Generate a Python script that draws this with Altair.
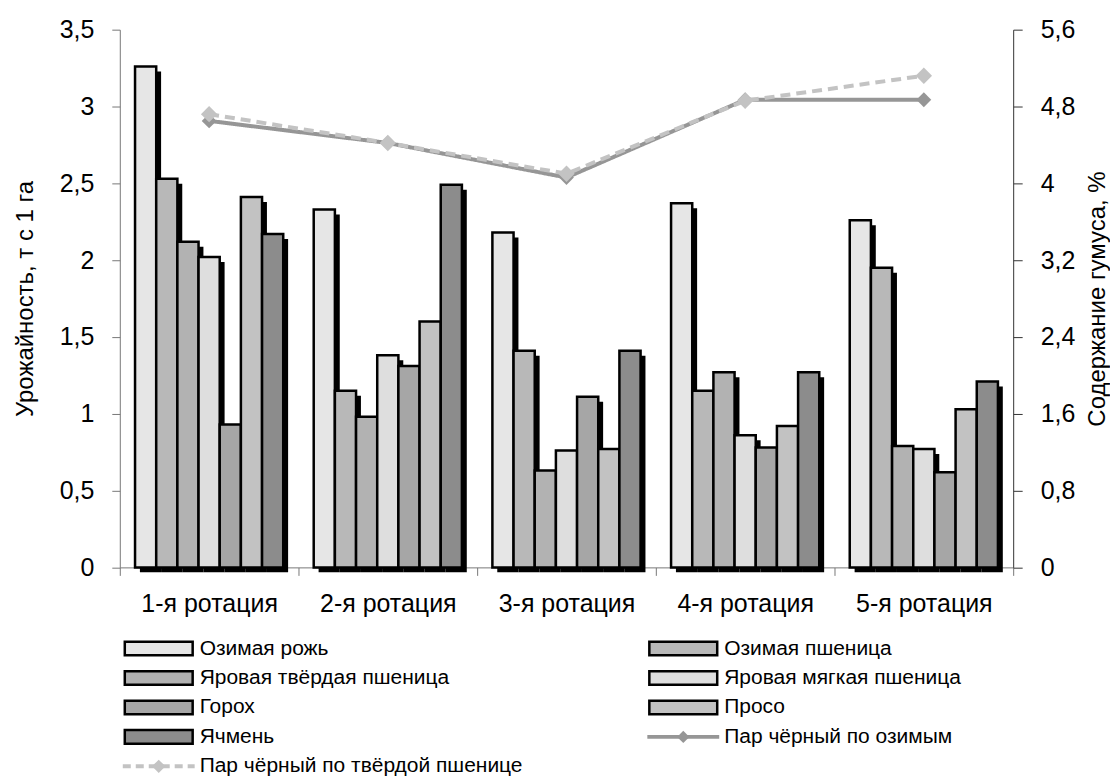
import altair as alt
import pandas as pd

FONT = "Liberation Sans"

rotations = ["1-я ротация", "2-я ротация", "3-я ротация", "4-я ротация", "5-я ротация"]
crops = ["Озимая рожь", "Озимая пшеница", "Яровая твёрдая пшеница",
         "Яровая мягкая пшеница", "Горох", "Просо", "Ячмень"]

rye = [3.26, 2.33, 2.18, 2.37, 2.26]
winter_wheat = [2.53, 1.15, 1.41, 1.15, 1.95]
durum_wheat = [2.12, 0.98, 0.63, 1.27, 0.79]
soft_wheat = [2.02, 1.38, 0.76, 0.86, 0.77]
pea = [0.93, 1.31, 1.11, 0.78, 0.62]
millet = [2.41, 1.60, 0.77, 0.92, 1.03]
barley = [2.17, 2.49, 1.41, 1.27, 1.21]
crop_values = [rye, winter_wheat, durum_wheat, soft_wheat, pea, millet, barley]
crop_fills = ["#e6e6e6", "#b8b8b8", "#b2b2b2", "#dedede", "#a6a6a6", "#c2c2c2", "#8c8c8c"]

lines = ["Пар чёрный по озимым", "Пар чёрный по твёрдой пшенице"]
humus_winter = [4.65, 4.42, 4.06, 4.87, 4.87]
humus_durum = [4.72, 4.42, 4.10, 4.86, 5.12]
line_colors = ["#969696", "#c3c3c3"]

yield_ticks = [0, 0.5, 1, 1.5, 2, 2.5, 3, 3.5]
humus_ticks = [0, 0.8, 1.6, 2.4, 3.2, 4.0, 4.8, 5.6]

bars_df = pd.DataFrame([
    {"rot": r, "crop": c, "value": v}
    for c, vals in zip(crops, crop_values)
    for r, v in zip(rotations, vals)
])
lines_df = pd.DataFrame(
    [{"rot": r, "series": lines[0], "humus": v} for r, v in zip(rotations, humus_winter)]
    + [{"rot": r, "series": lines[1], "humus": v} for r, v in zip(rotations, humus_durum)]
)

legend_items = crops + lines
legend_df = pd.DataFrame([
    {"label": name, "col": i % 2, "row": i // 2,
     "kind": "bar" if name in crops else ("solid" if name == lines[0] else "dashed")}
    for i, name in enumerate(legend_items)
])

label_expr = "replace(format(datum.value, '.1~f'), '.', ',')"

x_enc = alt.X(
    "rot:N", sort=rotations,
    scale=alt.Scale(paddingInner=0, paddingOuter=0),
    axis=alt.Axis(title=None, tickBand="extent", labelAngle=0, labelFontSize=25,
                  labelPadding=16, tickSize=8),
)
xoff = alt.XOffset("crop:N", sort=crops,
                   scale=alt.Scale(paddingInner=0, paddingOuter=0.72))
# shadow sub-bands shifted right by putting more of the outer padding on the left
xoff_shadow = alt.XOffset("crop:N", sort=crops,
                          scale=alt.Scale(paddingInner=0, paddingOuter=0.72, align=0.66))
y_left_axis = alt.Axis(values=yield_ticks, title="Урожайность, т с 1 га",
                       labelExpr=label_expr, tickSize=8, labelPadding=18,
                       titlePadding=22)
y_left = alt.Y("value:Q", scale=alt.Scale(domain=[0, 3.5], nice=False), axis=y_left_axis)
fill_enc = alt.Color("crop:N", sort=crops,
                     scale=alt.Scale(domain=crops, range=crop_fills), legend=None)

shadow = alt.Chart(bars_df).mark_bar(color="black", yOffset=5, y2Offset=0).encode(
    x=x_enc, xOffset=xoff_shadow, y=y_left
)
bars = alt.Chart(bars_df).mark_bar(stroke="black", strokeWidth=2.5).encode(
    x=x_enc, xOffset=xoff, y=y_left, fill=fill_enc
)
left = alt.layer(shadow, bars).resolve_scale(xOffset="independent")

y_right = alt.Y(
    "humus:Q", scale=alt.Scale(domain=[0, 5.6], nice=False),
    axis=alt.Axis(orient="right", values=humus_ticks, title="Содержание гумуса, %",
                  labelExpr=label_expr, tickSize=9, labelPadding=18,
                  titlePadding=11, titleAngle=270, titleBaseline="top",
                  domainColor="#333", tickColor="#333"),
)

def series_layers(name, color, dash, size):
    base = alt.Chart(lines_df).transform_filter(alt.datum.series == name)
    ln = base.mark_line(color=color, strokeWidth=4, strokeDash=dash).encode(
        x=x_enc, y=y_right)
    pt = base.mark_point(shape="diamond", filled=True, color=color, size=size, opacity=1).encode(
        x=x_enc, y=y_right)
    return [ln, pt]

right = alt.layer(*(series_layers(lines[0], line_colors[0], [1, 0], 220)
                    + series_layers(lines[1], line_colors[1], [10, 6], 270)))

main = alt.layer(left, right).resolve_scale(y="independent").properties(
    width=895, height=538.7)

# legend block
lx = alt.X("col:Q", scale=alt.Scale(domain=[0, 1], range=[39, 564.5]), axis=None)
ly = alt.Y("row:Q", scale=alt.Scale(domain=[0, 4], reverse=True), axis=None)
lbase = alt.Chart(legend_df)
leg_bar = lbase.transform_filter(alt.datum.kind == "bar").mark_point(
    shape="M-1,-0.2H1V0.2H-1Z", size=68 * 68, filled=True, stroke="black",
    strokeWidth=2.5, opacity=1, strokeOpacity=1
).encode(x=lx, y=ly, fill=alt.Fill("label:N", scale=alt.Scale(domain=crops, range=crop_fills), legend=None))
leg_solid = lbase.transform_filter(alt.datum.kind == "solid").mark_point(
    shape="M-1,0H1", size=72 * 72, filled=False, stroke=line_colors[0], strokeWidth=4, opacity=1
).encode(x=lx, y=ly)
leg_solid_pt = lbase.transform_filter(alt.datum.kind == "solid").mark_point(
    shape="diamond", size=150, filled=True, color=line_colors[0], opacity=1
).encode(x=lx, y=ly)
leg_dash = lbase.transform_filter(alt.datum.kind == "dashed").mark_point(
    shape="M-1,0H1", size=72 * 72, filled=False, stroke=line_colors[1], strokeWidth=4,
    strokeDash=[8, 5], opacity=1
).encode(x=lx, y=ly)
leg_dash_pt = lbase.transform_filter(alt.datum.kind == "dashed").mark_point(
    shape="diamond", size=180, filled=True, color=line_colors[1], opacity=1
).encode(x=lx, y=ly)
leg_text = lbase.mark_text(align="left", baseline="middle", dx=41, fontSize=21,
                           font=FONT, color="black").encode(x=lx, y=ly, text="label:N")
legend = alt.layer(leg_bar, leg_solid, leg_solid_pt, leg_dash, leg_dash_pt, leg_text).properties(
    width=895, height=118)

chart = alt.vconcat(main, legend, spacing=20).properties(
    padding={"left": 5, "top": 9, "right": 0, "bottom": 0}
).configure_view(stroke=None).configure_axis(
    labelFont=FONT, titleFont=FONT, labelFontSize=25, titleFontSize=24,
    titleFontWeight="normal", labelColor="black", titleColor="black",
    domainColor="#777", tickColor="#777", grid=False
)

chart.save("out.html", embed_options={"renderer": "svg", "actions": False})
